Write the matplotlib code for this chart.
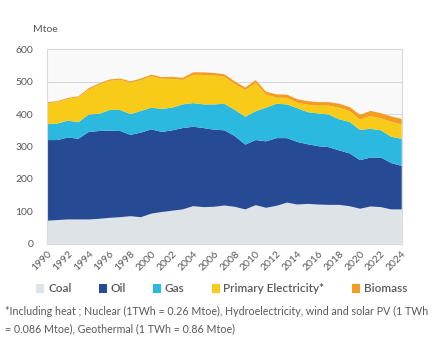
import matplotlib
matplotlib.use("Agg")
import matplotlib.pyplot as plt
from matplotlib.patches import Patch

years = list(range(1990, 2025))

coal = [71, 73, 75, 75, 75, 77, 80, 82, 85, 82, 93, 98, 102, 106, 116, 113, 114, 118,
        114, 106, 119, 111, 117, 127, 121, 123, 121, 120, 120, 116, 108, 115, 113, 106, 106]
oil = [249, 247, 253, 249, 270, 271, 269, 266, 251, 261, 260, 247, 248, 251, 245, 244,
       238, 232, 218, 200, 201, 205, 209, 199, 193, 184, 180, 178, 168, 163, 150, 151,
       153, 143, 134]
gas = [49, 51, 52, 51, 54, 53, 64, 65, 64, 67, 67, 71, 70, 73, 73, 73, 78, 82, 81, 86,
       89, 104, 106, 104, 104, 99, 101, 101, 96, 97, 93, 89, 84, 81, 84]
primary_electricity = [65, 66, 67, 77, 77, 90, 90, 93, 97, 95, 97, 93, 89, 76, 87, 91,
                       89, 83, 80, 82, 87, 40, 19, 20, 17, 23, 24, 27, 36, 33, 32, 39,
                       37, 46, 44]
biomass = [3, 3, 3, 3, 4, 4, 4, 4, 4, 5, 5, 5, 6, 6, 8, 8, 8, 8, 8, 8, 9, 9, 10, 10, 11,
           11, 11, 11, 12, 13, 15, 16, 16, 17, 17]

series_labels = ["Coal", "Oil", "Gas", "Primary Electricity*", "Biomass"]
series_colors = ["#dde3e6", "#264a94", "#2bb9df", "#f8cb18", "#f39c1f"]
x_tick_years = list(range(1990, 2025, 2))
y_ticks = [0, 100, 200, 300, 400, 500, 600]

text_color = "#595959"
grid_color = "#d9d9d9"
plt.rcParams["font.family"] = ["Lato", "DejaVu Sans"]

fig = plt.figure(figsize=(4.32, 3.39), dpi=100)
ax = fig.add_axes([0.109, 0.281, 0.821, 0.5735])
ax.set_facecolor("#f9f9f9")

ax.stackplot(years, coal, oil, gas, primary_electricity, biomass,
             colors=series_colors, labels=series_labels, linewidth=0, zorder=2)

ax.set_xlim(years[0], years[-1])
ax.set_ylim(0, 600)
ax.set_yticks(y_ticks)
ax.set_xticks(x_tick_years)
ax.set_xticklabels([str(y) for y in x_tick_years], rotation=45, ha="right",
                   va="top", rotation_mode="anchor")
ax.tick_params(axis="both", length=0, colors=text_color, labelsize=7.5)
ax.tick_params(axis="x", pad=4)
ax.tick_params(axis="y", pad=10)
ax.yaxis.grid(True, color=grid_color, linewidth=0.8, zorder=1)
ax.set_axisbelow(True)
for side in ax.spines.values():
    side.set_color(grid_color)
    side.set_linewidth(0.8)

fig.text(33 / 432, 1 - 29 / 339, "Mtoe", color=text_color, fontsize=7.5,
         ha="left", va="center")

handles = [Patch(facecolor=c, edgecolor="none") for c in series_colors]
fig.legend(handles, series_labels, loc="center", bbox_to_anchor=(0.513, 1 - 289 / 339),
           ncol=5, frameon=False, labelcolor=text_color,
           prop={"size": 8.5, "weight": "semibold"},
           handlelength=0.7, handleheight=0.7, handletextpad=0.3, columnspacing=2.3)

fig.text(5 / 432, 1 - 311 / 339,
         "*Including heat ; Nuclear (1TWh = 0.26 Mtoe), Hydroelectricity, wind and solar PV (1 TWh",
         color=text_color, fontsize=7.7, ha="left", va="center")
fig.text(5 / 432, 1 - 329 / 339,
         "= 0.086 Mtoe), Geothermal (1 TWh = 0.86 Mtoe)",
         color=text_color, fontsize=7.7, ha="left", va="center")

fig.savefig("out.png", dpi=100)
